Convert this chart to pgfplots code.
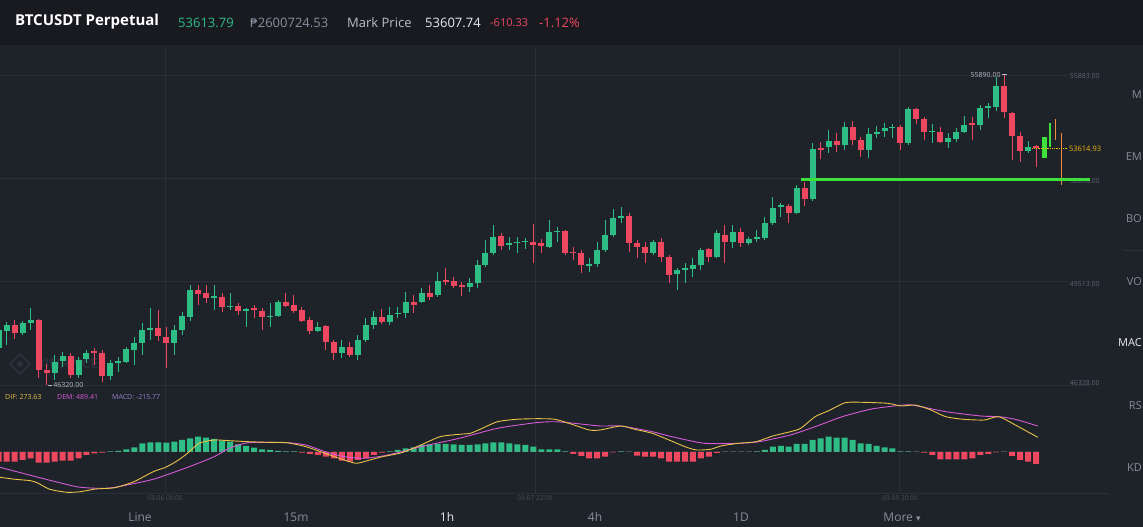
\documentclass[border=0pt]{standalone}
\usepackage{pgfplots}
\pgfplotsset{compat=1.18}
\usepackage{pgfplotstable}
\usepackage{fontspec}
\setmainfont{Open Sans}
\newfontfamily\dejavu{DejaVu Sans}
\definecolor{bgtop}{HTML}{181A20}
\definecolor{bgpanel}{HTML}{1E2229}
\definecolor{gridc}{HTML}{2A2F37}
\definecolor{wm}{HTML}{2C3038}
\definecolor{up}{HTML}{2EBD85}
\definecolor{down}{HTML}{EE4860}
\definecolor{txtgray}{HTML}{848E9C}
\definecolor{txtlight}{HTML}{B7BDC6}
\definecolor{txtwhite}{HTML}{EAECEF}
\definecolor{difc}{HTML}{E9C34A}
\definecolor{demc}{HTML}{D55BD8}
\definecolor{macdc}{HTML}{9A7FCB}
\definecolor{brightgreen}{HTML}{3EE03A}
\definecolor{orangel}{HTML}{F08A3C}
\definecolor{pricelbl}{HTML}{F0B90B}
\definecolor{faint}{HTML}{4A505A}
\definecolor{axlbl}{HTML}{5E6673}

% candles: values read in screen units (y grows downward), converted to price by P = 58195.3 - 30.83*y
\pgfplotstableread{
k O H L C
0 348 328 352 330
1 331 322 345 325
2 325 320 339 333
3 333 321 335 323
4 323 308 330 320
5 320 319 378 370
6 370 364 385 373
7 373 355 380 362
8 361 352 367 356
9 356 353 378 375
10 375 357 378 360
11 359 350 363 353
12 351 348 365 353
13 353 350 382 376
14 376 360 380 363
15 363 357 372 361
16 362 347 363 349
17 350 337 365 343
18 343 323 355 330
19 330 308 340 328
20 328 310 341 336
21 337 327 368 343
22 343 325 355 330
23 330 312 335 316
24 317 285 321 290
25 290 285 305 294
26 293 285 303 298
27 298 285 310 296
28 297 293 312 307
29 307 293 310 306
30 306 303 315 311
31 311 308 327 309
32 308 305 318 310
33 311 308 330 317
34 317 303 327 316
35 316 300 317 302
36 302 293 307 306
37 305 295 313 311
38 310 307 322 321
39 320 317 334 331
40 331 322 332 327
41 326 325 350 342
42 342 340 360 353
43 353 340 358 347
44 347 342 357 355
45 355 335 360 340
46 340 318 342 325
47 325 311 329 317
48 317 309 324 322
49 322 307 325 315
50 314 307 318 313
51 313 292 318 302
52 302 295 313 305
53 302 288 303 293
54 293 285 300 297
55 295 272 297 281
56 280 268 285 282
57 281 277 288 286
58 285 282 296 287
59 287 278 292 283
60 283 260 288 265
61 265 240 267 253
62 253 225 255 237
63 236 233 250 246
64 245 237 250 243
65 243 237 253 242
66 242 238 249 241
67 242 224 263 245
68 243 239 253 246
69 247 220 248 232
70 232 227 242 231
71 231 230 255 253
72 252 247 260 253
73 253 250 273 265
74 266 258 272 264
75 264 242 267 250
76 250 220 252 235
77 235 209 237 218
78 218 207 223 216
79 216 213 252 243
80 243 240 258 247
81 247 242 263 253
82 253 240 255 242
83 242 238 262 257
84 257 255 283 275
85 274 268 290 270
86 270 263 283 268
87 269 258 277 265
88 265 248 270 250
89 249 248 262 257
90 257 230 258 233
91 235 225 263 242
92 242 225 248 232
93 232 228 247 243
94 243 237 245 239
95 239 230 242 237
96 238 217 240 223
97 223 197 225 208
98 207 203 217 205
99 206 204 223 213
100 213 185 214 188
101 188 182 206 199
102 199 143 201 149
103 148 142 159 150
104 147 130 153 141
105 141 133 152 145
106 145 122 150 127
107 127 121 145 140
108 140 137 157 150
109 150 128 158 134
110 134 126 138 132
111 131 123 137 128
112 128 124 138 127
113 127 125 150 143
114 143 107 145 109
115 109 108 124 119
116 119 117 140 132
117 132 124 143 131
118 132 127 143 142
119 142 133 148 138
120 139 128 142 132
121 132 116 133 125
122 123 117 140 125
123 125 105 130 108
124 108 103 118 106
125 107 77 111 86
126 86 75 118 112
127 113 112 160 136
128 136 132 162 151
129 151 141 153 147
130 146 145 167 148
}\candles

% MACD histogram (screen units above zero line, x 18.7 = MACD value)
\pgfplotstableread{
k h
0 -9.7
1 -9.7
2 -9.7
3 -8
4 -6.3
5 -10.7
6 -10.7
7 -9.7
8 -8.7
9 -8.7
10 -6.3
11 -3
12 -1.3
13 -0.7
14 0.5
15 1
16 2.7
17 4.7
18 8.7
19 9.7
20 9.7
21 9.3
22 10.3
23 12
24 13.7
25 15.3
26 14.3
27 13
28 11.3
29 10.3
30 7.7
31 6
32 4.3
33 2.7
34 2
35 1
36 0.7
37 0.7
38 -0.7
39 -2
40 -3
41 -4.7
42 -6.3
43 -8.7
44 -9.7
45 -8
46 -6.3
47 -3
48 -0.7
49 0.7
50 2
51 3.7
52 4.7
53 7
54 7.7
55 8
56 8
57 7.7
58 7
59 7
60 7.7
61 8.7
62 9.7
63 9.7
64 8.7
65 7.7
66 7
67 5.3
68 2.7
69 2.7
70 2.7
71 0.7
72 -2
73 -4
74 -6.3
75 -6.3
76 -4.7
77 -0.5
78 0.5
79 0.3
80 -3.7
81 -4.7
82 -4.7
83 -6.3
84 -9.7
85 -9.7
86 -9.7
87 -9.7
88 -6.3
89 -4.7
90 -1
91 0.3
92 0.3
93 0.3
94 0.3
95 0.7
96 2
97 5.3
98 6
99 5.3
100 8
101 8
102 12
103 13.7
104 15.3
105 14.3
106 14.3
107 12
108 8.7
109 8
110 6
111 4.7
112 3.7
113 0.7
114 0.7
115 0.3
116 -0.7
117 -3
118 -7.3
119 -7.3
120 -7.3
121 -7.3
122 -6.3
123 -3
124 -2
125 -0.5
126 0.3
127 -4
128 -8
129 -9.7
130 -12
}\hist

\pgfplotstableread{
k v
0.16 -25.3
2.08 -27.3
4.0 -28.7
4.96 -31.3
6.4 -37.3
8.56 -40.3
10.24 -39.7
12.15 -37
14.55 -35.7
16.95 -29.7
19.35 -19.7
20.79 -15.7
22.2 -9.7
23.66 -1.3
25.1 8.7
27.0 12
28.9 11.3
31.3 10.3
33.7 9.7
36.1 9.3
38.5 5.3
40.9 -1.3
43.3 -8
44.8 -11.3
46.2 -8.7
48.1 -4.7
50.5 -0.7
52.9 7
55.3 15.3
57.7 17.7
59.1 18.7
60.6 23.7
62.5 30.3
64.9 32.7
67.3 33.3
69.7 32.7
72.1 27
74.0 22
75.35 22
77.96 26
79.7 22.7
81.9 18.7
84.0 12
86.2 4.7
87.5 2
89.2 2.7
90.5 6
92.7 8.7
94.9 10.3
97.0 16
99.2 20.3
100.5 23.7
102.3 35.3
104.0 41.3
106.1 49.3
108.3 49.7
111.4 48.7
113.1 46
114.8 47
116.6 42.7
118.7 35.3
120.9 32.7
123.5 32
125.3 35.3
127.4 27
130.2 14.7
}\difdata

\pgfplotstableread{
k v
0.16 -15.3
4.96 -25.3
9.76 -34.7
12.6 -36.3
14.55 -35.3
19.35 -27.3
24.1 -14
27.0 -4.7
28.9 3.7
31.3 9.3
36.1 9.3
38.5 7
40.9 0.3
43.3 -4.7
45.7 -6.3
48.1 -4
50.5 0.3
52.9 5.3
57.7 13.7
62.5 23.7
67.3 29.3
69.7 30.3
72.1 28.7
75.4 26
77.96 26
81.9 20.3
84.0 16
88.4 8.7
92.7 8.7
95.3 10.3
99.2 17
102.3 25.3
105.7 35.3
109.2 42.7
112.2 46
114.4 47
118.7 40.3
123.1 36
125.3 35.3
127.4 32.7
130.2 26
}\demdata

\pgfplotsset{chartaxis/.style={scale only axis, hide axis, clip mode=individual,
  xmin=0.163, xmax=136.75, width=1090pt, anchor=south west}}
\pgfplotsset{wick/.style={draw=none, mark=none, mark size=0pt, forget plot,
  error bars/.cd, y dir=minus, y explicit, error mark=none,
  error bar style={line width=1pt, draw=#1, solid}}}
\pgfplotsset{body/.style={draw=none, mark=none, mark size=0pt, forget plot,
  error bars/.cd, y dir=minus, y explicit, error mark=none,
  error bar style={line width=6pt, draw=#1, solid}}}

\begin{document}
\begin{tikzpicture}[x=1pt,y=1pt]
\clip (0,0) rectangle (1143,527);
\fill[bgtop] (0,0) rectangle (1143,527);
\fill[bgpanel] (0,0) rectangle (1143,482);

% faint watermark
\draw[wm, line width=2pt] (20,163) +(0,10) -- +(10,0) -- +(0,-10) -- +(-10,0) -- cycle;
\fill[wm] (20,163) +(0,3.5) -- +(3.5,0) -- +(0,-3.5) -- +(-3.5,0) -- cycle;
\node[anchor=west, inner sep=0pt, text=wm, font=\fontsize{14}{14}\selectfont\bfseries] at (35,163) {BINANCE};

% ---------- price panel ----------
\begin{axis}[chartaxis, at={(0pt,137pt)}, height=345pt,
  ymin=46171.6, ymax=56807.95]
  % grid
  \addplot[gridc, line width=0.8pt, forget plot] coordinates {(0.163,55883) (134,55883)};
  \addplot[gridc, line width=0.8pt, forget plot] coordinates {(0.163,52698) (134,52698)};
  \addplot[gridc, line width=0.8pt, forget plot] coordinates {(0.163,49513) (134,49513)};
  \addplot[gridc, line width=0.8pt, forget plot] coordinates {(0.163,46328) (136.75,46328)};
  \addplot[gridc, line width=0.8pt, forget plot] coordinates {(20.84,46171.6) (20.84,56700)};
  \addplot[gridc, line width=0.8pt, forget plot] coordinates {(67.2,46171.6) (67.2,56700)};
  \addplot[gridc, line width=0.8pt, forget plot] coordinates {(112.9,46171.6) (112.9,56700)};
  \node[anchor=west, text=axlbl, font=\fontsize{7}{8}\selectfont, inner sep=0pt, yshift=-1pt] at (axis cs:134.2,55883) {55883.00};
  \node[anchor=west, text=axlbl, font=\fontsize{7}{8}\selectfont, inner sep=0pt, yshift=-3pt] at (axis cs:134.2,52698) {52698.00};
  \node[anchor=west, text=axlbl, font=\fontsize{7}{8}\selectfont, inner sep=0pt, yshift=-2pt] at (axis cs:134.2,49513) {49513.00};
  \node[anchor=west, text=axlbl, font=\fontsize{7}{8}\selectfont, inner sep=0pt, yshift=2pt] at (axis cs:134.2,46328) {46328.00};
  % candles: wicks
  \addplot[wick=up] table[x=k, y expr={58195.3-30.83*\thisrow{H}},
     y error minus expr={30.83*(\thisrow{L}-\thisrow{H})*(\thisrow{O}>\thisrow{C})}] {\candles};
  \addplot[wick=down] table[x=k, y expr={58195.3-30.83*\thisrow{H}},
     y error minus expr={30.83*(\thisrow{L}-\thisrow{H})*(\thisrow{O}<\thisrow{C})}] {\candles};
  % candles: bodies
  \addplot[body=up] table[x=k, y expr={58195.3-30.83*\thisrow{C}},
     y error minus expr={30.83*max(0,\thisrow{O}-\thisrow{C})}] {\candles};
  \addplot[body=down] table[x=k, y expr={58195.3-30.83*\thisrow{O}},
     y error minus expr={30.83*max(0,\thisrow{C}-\thisrow{O})}] {\candles};
  % live candles
  \addplot[brightgreen, line width=5pt, forget plot] coordinates {(131,53324.2) (131,53971.6)};
  \addplot[brightgreen, line width=1.4pt, forget plot] coordinates {(131.75,53664.3) (131.75,54403.2)};
  \addplot[orangel, line width=1.2pt, forget plot] coordinates {(132.4,53879.1) (132.4,54526.5)};
  \addplot[orangel, line width=1.2pt, forget plot] coordinates {(133.2,52491.7) (133.2,54094.9)};
  % last price
  \addplot[pricelbl, densely dotted, line width=0.8pt, forget plot] coordinates {(129.5,53614.93) (133.9,53614.93)};
  \node[anchor=west, text=pricelbl, font=\fontsize{7.5}{8}\selectfont, inner sep=0pt] at (axis cs:134.1,53614.93) {53614.93};
  % drawn support line
  \addplot[brightgreen, line width=3pt, forget plot] coordinates {(100.5,52670) (136.75,52670)};
  % high / low
  \draw[txtlight, line width=0.6pt] (axis cs:126.3,55890) -- (axis cs:125.7,55890)
     node[anchor=east, inner sep=1pt, text=txtlight, font=\fontsize{7}{8}\selectfont] {55890.00};
  \draw[txtlight, line width=0.6pt] (axis cs:6.2,46320) -- (axis cs:6.7,46320)
     node[anchor=west, inner sep=1pt, text=txtlight, font=\fontsize{7}{8}\selectfont] {46320.00};
\end{axis}

% ---------- MACD panel ----------
\begin{axis}[chartaxis, at={(0pt,34pt)}, height=103pt,
  ymin=-766.7, ymax=1159.4]
  \addplot[gridc, line width=0.8pt, forget plot] coordinates {(20.84,-766.7) (20.84,1159.4)};
  \addplot[gridc, line width=0.8pt, forget plot] coordinates {(67.2,-766.7) (67.2,1159.4)};
  \addplot[gridc, line width=0.8pt, forget plot] coordinates {(112.9,-766.7) (112.9,1159.4)};
  \addplot[ybar, bar width=6pt, bar shift=0pt, fill=up, draw=none, forget plot]
     table[x=k, y expr={max(0,18.7*\thisrow{h})}] {\hist};
  \addplot[ybar, bar width=6pt, bar shift=0pt, fill=down, draw=none, forget plot]
     table[x=k, y expr={min(0,18.7*\thisrow{h})}] {\hist};
  \addplot[demc, line width=0.9pt, smooth, tension=0.4, forget plot]
     table[x=k, y expr={18.7*\thisrow{v}}] {\demdata};
  \addplot[difc, line width=0.9pt, smooth, tension=0.4, forget plot]
     table[x=k, y expr={18.7*\thisrow{v}}] {\difdata};
\end{axis}

% panel lines
\draw[gridc, line width=0.8pt] (0,34) -- (1109,34);

% ---------- texts ----------
\node[anchor=west, inner sep=0pt, text=white, font=\fontsize{15}{16}\selectfont\bfseries] at (15,505) {BTCUSDT Perpetual};
\node[anchor=west, inner sep=0pt, text=up, font=\fontsize{13}{14}\selectfont] at (178,504) {53613.79};
\node[anchor=west, inner sep=0pt, text=txtgray, font=\fontsize{13}{14}\selectfont] at (250,504) {{\dejavu\fontsize{12}{14}\selectfont ₱}2600724.53};
\node[anchor=west, inner sep=0pt, text=txtlight, font=\fontsize{13}{14}\selectfont] at (347,504) {Mark Price};
\node[anchor=west, inner sep=0pt, text=txtwhite, font=\fontsize{13}{14}\selectfont] at (425,504) {53607.74};
\node[anchor=west, inner sep=0pt, text=down, font=\fontsize{11}{12}\selectfont] at (490,504) {-610.33};
\node[anchor=west, inner sep=0pt, text=down, font=\fontsize{13}{14}\selectfont] at (539,504) {-1.12\%};

\node[anchor=west, inner sep=0pt, text=difc, font=\fontsize{7}{8}\selectfont] at (5,130) {DIF: 273.63};
\node[anchor=west, inner sep=0pt, text=demc, font=\fontsize{7}{8}\selectfont] at (57,130) {DEM: 489.41};
\node[anchor=west, inner sep=0pt, text=macdc, font=\fontsize{7}{8}\selectfont] at (112,130) {MACD: -215.77};

\foreach \xx/\tt in {165/03-06 00:00, 535/03-07 22:00, 900/03-09 20:00}
  \node[inner sep=0pt, text=faint, font=\fontsize{6.5}{7}\selectfont] at (\xx,29) {\tt};

\foreach \xx/\tt in {140/Line, 296/15m, 595/4h, 741/1D}
  \node[inner sep=0pt, text=txtgray, font=\fontsize{12}{13}\selectfont] at (\xx,10) {\tt};
\node[inner sep=0pt, text=txtwhite, font=\fontsize{12}{13}\selectfont] at (447,10) {1h};
\node[inner sep=0pt, text=txtgray, font=\fontsize{12}{13}\selectfont] at (902,10) {More {\dejavu\fontsize{9}{10}\selectfont ▾}};

% right-hand indicator list (only the part visible in the screenshot)
\foreach \yy/\tt in {95/M, 157/EM, 219/BO, 282/VO, 406/RS, 468/KD}
  \node[anchor=east, inner sep=0pt, text=txtgray, font=\fontsize{11}{12}\selectfont] at (1142,527-\yy) {\tt};
\node[anchor=east, inner sep=0pt, text=txtwhite, font=\fontsize{11}{12}\selectfont] at (1142,527-343) {MAC};
\draw[gridc, line width=0.8pt] (1123,277) -- (1143,277);
\end{tikzpicture}
\end{document}
